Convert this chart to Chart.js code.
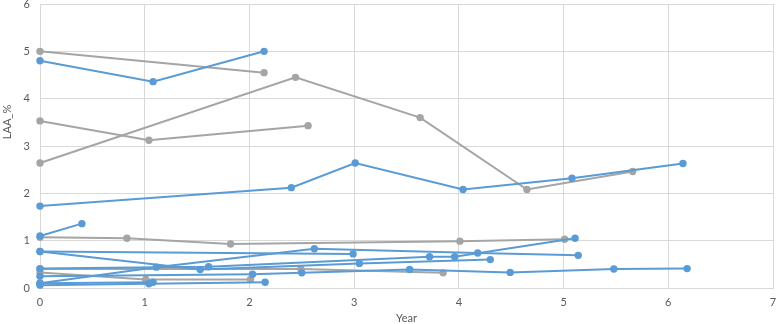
<!DOCTYPE html>
<html lang="en">
<head>
  <meta charset="UTF-8">
  <title>LAA_% by Year</title>
  <script src="https://cdn.jsdelivr.net/npm/chart.js"></script>
  <style>
    body {
      margin: 0;
      background: #fff;
    }
    canvas {
      display: block;
    }
  </style>
</head>
<body>
  <canvas id="laaChart" width="777" height="324"></canvas>

  <script>
    // Blue group, one pair of arrays per subject
    const b1Year = [0, 1.08, 2.14];
    const b1Laa  = [4.80, 4.36, 5.00];
    const b2Year = [0, 2.40, 3.01, 4.04, 5.08, 6.14];
    const b2Laa  = [1.73, 2.12, 2.64, 2.08, 2.32, 2.63];
    const b3Year = [0, 0.40];
    const b3Laa  = [1.10, 1.36];
    const b4Year = [0, 2.99];
    const b4Laa  = [0.77, 0.72];
    const b5Year = [0, 1.53, 3.05, 4.30];
    const b5Laa  = [0.77, 0.39, 0.52, 0.60];
    const b6Year = [0, 2.03, 2.50, 3.53, 4.49, 5.48, 6.18];
    const b6Laa  = [0.25, 0.29, 0.32, 0.39, 0.33, 0.40, 0.41];
    const b7Year = [0, 1.61, 3.72, 3.96, 5.11];
    const b7Laa  = [0.41, 0.45, 0.66, 0.66, 1.05];
    const b8Year = [0, 1.11, 2.62, 4.18, 5.14];
    const b8Laa  = [0.10, 0.44, 0.83, 0.74, 0.69];
    const b9Year = [0, 1.04, 2.15];
    const b9Laa  = [0.06, 0.09, 0.12];
    const b10Year = [0, 1.08];
    const b10Laa  = [0.10, 0.12];

    // Gray group
    const g1Year = [0, 2.14];
    const g1Laa  = [5.00, 4.55];
    const g2Year = [0, 1.04, 2.56];
    const g2Laa  = [3.53, 3.12, 3.43];
    const g3Year = [0, 2.44, 3.63, 4.65, 5.66];
    const g3Laa  = [2.64, 4.45, 3.60, 2.08, 2.46];
    const g4Year = [0, 0.83, 1.82, 4.01, 5.01];
    const g4Laa  = [1.07, 1.05, 0.93, 0.99, 1.03];
    const g5Year = [0, 1.01, 2.01];
    const g5Laa  = [0.33, 0.18, 0.18];
    const g6Year = [0, 2.49, 3.85];
    const g6Laa  = [0.40, 0.40, 0.32];

    const xTicks = [0, 1, 2, 3, 4, 5, 6, 7];
    const yTicks = [0, 1, 2, 3, 4, 5, 6];

    const BLUE = '#5b9bd5';
    const GRAY = '#a5a5a5';
    const TEXT = '#595959';
    const FONT = 'Lato, "Open Sans", sans-serif';

    function series(years, values, color) {
      return {
        data: years.map((x, i) => ({ x: x, y: values[i] })),
        showLine: true,
        clip: false,
        borderColor: color,
        backgroundColor: color,
        borderWidth: 2,
        pointRadius: 3.7,
        pointBorderWidth: 0,
        pointBackgroundColor: color,
      };
    }

    // first dataset is drawn on top, so blue goes first
    const datasets = [
      series(b1Year, b1Laa, BLUE),
      series(b2Year, b2Laa, BLUE),
      series(b3Year, b3Laa, BLUE),
      series(b4Year, b4Laa, BLUE),
      series(b5Year, b5Laa, BLUE),
      series(b6Year, b6Laa, BLUE),
      series(b7Year, b7Laa, BLUE),
      series(b8Year, b8Laa, BLUE),
      series(b9Year, b9Laa, BLUE),
      series(b10Year, b10Laa, BLUE),
      series(g1Year, g1Laa, GRAY),
      series(g2Year, g2Laa, GRAY),
      series(g3Year, g3Laa, GRAY),
      series(g4Year, g4Laa, GRAY),
      series(g5Year, g5Laa, GRAY),
      series(g6Year, g6Laa, GRAY),
    ];

    // y axis title sits above the middle of the axis in the original
    const yTitlePlugin = {
      id: 'yTitle',
      afterDraw(chart) {
        const c = chart.ctx;
        c.save();
        c.translate(7, 122);
        c.rotate(-Math.PI / 2);
        c.font = '11px ' + FONT;
        c.fillStyle = TEXT;
        c.textAlign = 'center';
        c.textBaseline = 'middle';
        c.fillText('LAA_%', 0, 0);
        c.restore();
      }
    };

    const ctx = document.getElementById('laaChart').getContext('2d');
    new Chart(ctx, {
      type: 'scatter',
      data: { datasets: datasets },
      plugins: [yTitlePlugin],
      options: {
        responsive: false,
        animation: false,
        layout: { padding: { top: 4, right: 1, left: 0, bottom: 0 } },
        plugins: {
          legend: { display: false },
          tooltip: { enabled: false }
        },
        scales: {
          x: {
            type: 'linear',
            min: 0,
            max: 7,
            afterBuildTicks: (scale) => { scale.ticks = xTicks.map(v => ({ value: v })); },
            afterFit: (scale) => {
              scale.height = 36;
              scale.paddingLeft = 0;
              scale.paddingRight = 0;
            },
            grid: { color: '#d9d9d9', drawTicks: false },
            border: { color: '#d9d9d9' },
            ticks: { color: TEXT, font: { size: 11, family: FONT }, padding: 8 },
            title: {
              display: true,
              text: 'Year',
              color: TEXT,
              font: { size: 11, family: FONT },
              padding: { top: 0, bottom: -1 }
            }
          },
          y: {
            type: 'linear',
            min: 0,
            max: 6,
            afterBuildTicks: (scale) => { scale.ticks = yTicks.map(v => ({ value: v })); },
            afterFit: (scale) => {
              scale.width = 40;
              scale.paddingTop = 0;
              scale.paddingBottom = 0;
            },
            grid: { color: '#d9d9d9', drawTicks: false },
            border: { color: '#d9d9d9' },
            ticks: { color: TEXT, font: { size: 11, family: FONT }, padding: 10 }
          }
        }
      }
    });
  </script>
</body>
</html>
